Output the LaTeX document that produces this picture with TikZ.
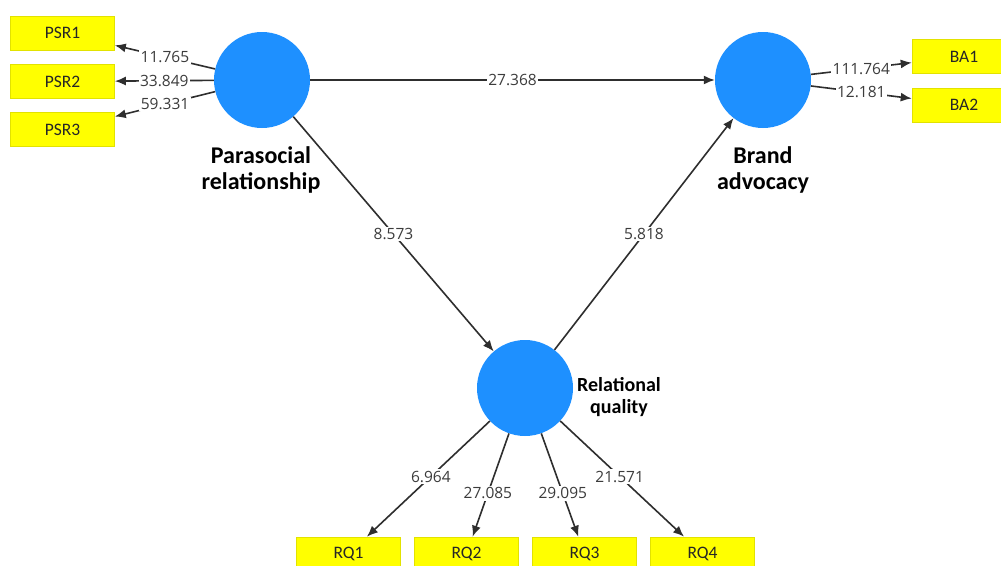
\documentclass[tikz,border=0pt]{standalone}
\usepackage{fontspec}
\setmainfont{Carlito}
\newfontfamily\numfont{Open Sans}
\usetikzlibrary{arrows.meta}
\definecolor{latent}{HTML}{1E90FF}
\definecolor{ind}{HTML}{FFFF00}
\definecolor{indborder}{HTML}{E2E200}
\definecolor{edgecol}{HTML}{2E2E2E}
\definecolor{numcol}{HTML}{3C3C3C}
\begin{document}
\begin{tikzpicture}[x=1pt,y=-1pt,
  latentnode/.style={circle,fill=latent,minimum size=96pt,inner sep=0pt},
  indbox/.style={rectangle,fill=ind,draw=indborder,line width=0.6pt,minimum width=104pt,minimum height=34pt,inner sep=0pt,text=black!85,font=\fontsize{17.5}{20}\selectfont},
  latentlabel/.style={align=center,text=black,font=\bfseries\fontsize{24}{26}\selectfont},
  conn/.style={draw=edgecol,line width=1.6pt,-{Latex[length=11pt,width=9pt]}},
  val/.style={fill=white,inner sep=1.5pt,text=numcol,font=\numfont\fontsize{15.5}{17}\selectfont}
]
\clip (0,0) rectangle (1001,565);
\fill[white] (0,0) rectangle (1001,565);

\node[latentnode] (psr) at (262,80) {};
\node[latentnode] (ba) at (763,80) {};
\node[latentnode] (rq) at (525,388) {};

\node[indbox] (psr1) at (62.5,33) {PSR1};
\node[indbox] (psr2) at (62.5,81.5) {PSR2};
\node[indbox] (psr3) at (62.5,129.5) {PSR3};
\node[indbox] (ba1) at (964,56.5) {BA1};
\node[indbox] (ba2) at (964,105) {BA2};
\node[indbox] (rq1) at (348.5,554) {RQ1};
\node[indbox] (rq2) at (466.5,554) {RQ2};
\node[indbox] (rq3) at (584.5,554) {RQ3};
\node[indbox] (rq4) at (702.5,554) {RQ4};

\node[latentlabel] (psrl) at (261,170) {Parasocial\\relationship};
\node[latentlabel] (bal) at (763,170) {Brand\\advocacy};
\node[latentlabel,font=\bfseries\fontsize{20}{22}\selectfont] (rql) at (619,397) {Relational\\quality};

\draw[conn] (psr) -- node[val]{11.765} (psr1);
\draw[conn] (psr) -- node[val]{33.849} (psr2);
\draw[conn] (psr) -- node[val]{59.331} (psr3);
\draw[conn] (psr) -- node[val]{27.368} (ba);
\draw[conn] (ba) -- node[val]{111.764} (ba1);
\draw[conn] (ba) -- node[val]{12.181} (ba2);
\draw[conn] (psr) -- node[val]{8.573} (rq);
\draw[conn] (rq) -- node[val]{5.818} (ba);
\draw[conn] (rq) -- node[val,pos=0.48]{6.964} (rq1);
\draw[conn] (rq) -- node[val,pos=0.58]{27.085} (rq2);
\draw[conn] (rq) -- node[val,pos=0.58]{29.095} (rq3);
\draw[conn] (rq) -- node[val,pos=0.48]{21.571} (rq4);
\end{tikzpicture}
\end{document}
